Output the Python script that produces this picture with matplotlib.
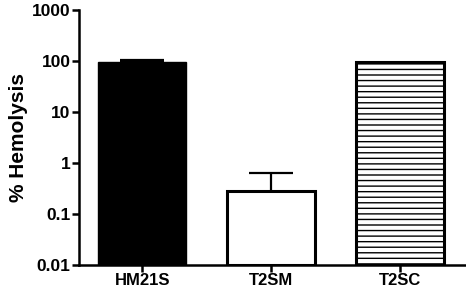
import matplotlib.pyplot as plt
import matplotlib.ticker as mticker

plt.rcParams['font.family'] = ['Liberation Sans', 'DejaVu Sans']
plt.rcParams['font.weight'] = 'bold'
plt.rcParams['hatch.linewidth'] = 1.0

# Data
groups = ['HM21S', 'T2SM', 'T2SC']
hemolysis = [95, 0.27, 92]
err_up = [8, 0.37, 0]
yticks = [0.01, 0.1, 1, 10, 100, 1000]
ytick_labels = ['0.01', '0.1', '1', '10', '100', '1000']

fig = plt.figure(figsize=(4.66, 2.91), dpi=100)
ax = fig.add_axes([0.1695, 0.0893, 0.8305, 0.878])

x = range(len(groups))
styles = [dict(color='black', edgecolor='black', linewidth=1),
          dict(color='white', edgecolor='black', linewidth=2.2),
          dict(color='white', edgecolor='black', linewidth=2.2, hatch='---')]
for i in x:
    ax.bar(i, hemolysis[i], width=0.68, bottom=0.01, zorder=2, **styles[i])
    if err_up[i] > 0:
        ax.errorbar(i, hemolysis[i], yerr=[[0], [err_up[i]]], fmt='none',
                    ecolor='black', elinewidth=1.6, capsize=16, capthick=1.6, zorder=1)

ax.set_yscale('log')
ax.set_ylim(0.01, 1000)
ax.set_xlim(-0.49, 2.51)
ax.yaxis.set_major_locator(mticker.FixedLocator(yticks))
ax.yaxis.set_major_formatter(mticker.FixedFormatter(ytick_labels))
ax.yaxis.set_minor_locator(mticker.NullLocator())
ax.set_xticks(list(x))
ax.set_xticklabels(groups, fontsize=12)
ax.set_ylabel('% Hemolysis', fontsize=15, fontweight='bold', labelpad=3)

for s in ['top', 'right']:
    ax.spines[s].set_visible(False)
for s in ['left', 'bottom']:
    ax.spines[s].set_linewidth(1.8)
ax.tick_params(axis='both', width=1.8, length=5, pad=1)
ax.tick_params(axis='y', labelsize=12.5)
for lab in ax.get_xticklabels() + ax.get_yticklabels():
    lab.set_fontweight('bold')

fig.savefig('out.png', dpi=100)
